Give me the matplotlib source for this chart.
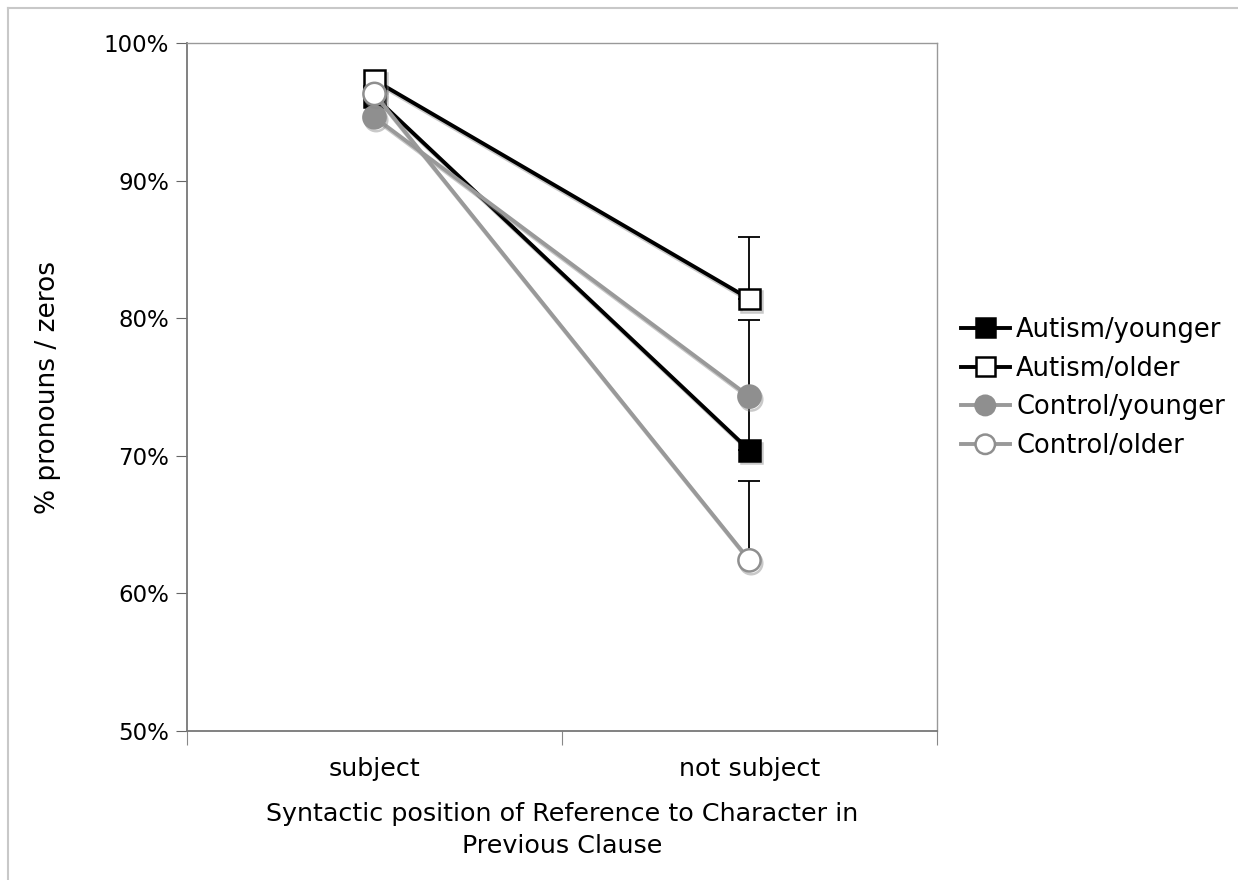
import matplotlib
matplotlib.use("Agg")
import matplotlib.pyplot as plt
import matplotlib.patheffects as pe
from matplotlib.lines import Line2D
from matplotlib.ticker import FuncFormatter

categories = ["subject", "not subject"]
series_names = ["Autism/younger", "Autism/older", "Control/younger", "Control/older"]
autism_younger = [96.1, 70.4]
autism_older = [97.3, 81.4]
control_younger = [94.6, 74.3]
control_older = [96.3, 62.4]
err_autism_younger = [0.0, 9.5]
err_autism_older = [0.0, 4.5]
err_control_younger = [0.0, 0.0]
err_control_older = [0.0, 5.8]
y_ticks = [50, 60, 70, 80, 90, 100]

plt.rcParams['font.family'] = ['DejaVu Sans']

fig = plt.figure(figsize=(12.38, 8.8), dpi=100)
ax = fig.add_axes([187/1238, 1-731/880, (937-187)/1238, (731-43)/880])

# figure border (top and left)
fig.add_artist(Line2D([8/1238, 1], [1-8/880, 1-8/880], color='#c8c8c8', lw=1.5, transform=fig.transFigure))
fig.add_artist(Line2D([8/1238, 8/1238], [0, 1-8/880], color='#c8c8c8', lw=1.5, transform=fig.transFigure))

xpos = [0.5, 1.5]
shadow = [pe.SimpleLineShadow(offset=(1.2, -2.0), shadow_color='#888888', alpha=0.45), pe.Normal()]

styles = [
    dict(data=autism_younger, err=err_autism_younger, color='black', marker='s', mfc='black', mec='black'),
    dict(data=autism_older, err=err_autism_older, color='black', marker='s', mfc='white', mec='black'),
    dict(data=control_younger, err=err_control_younger, color='#999999', marker='o', mfc='#8f8f8f', mec='#8f8f8f'),
    dict(data=control_older, err=err_control_older, color='#999999', marker='o', mfc='white', mec='#8f8f8f'),
]

handles = []
for name, st in zip(series_names, styles):
    # error bars (plus only)
    for x, v, e in zip(xpos, st['data'], st['err']):
        if e > 0:
            ax.errorbar([x], [v], yerr=[[0], [e]], fmt='none', ecolor='black',
                        elinewidth=1.3, capsize=8, capthick=1.3, zorder=2)
    ms = 15 if st['marker'] == 's' else 16
    ln, = ax.plot(xpos, st['data'], color=st['color'], lw=2.8, marker=st['marker'],
                  markersize=ms, markerfacecolor=st['mfc'], markeredgecolor=st['mec'],
                  markeredgewidth=1.8, zorder=3, label=name)
    ln.set_path_effects(shadow)
    handles.append(ln)

ax.set_xlim(0, 2)
ax.set_ylim(50, 100)
ax.set_yticks(y_ticks)
ax.yaxis.set_major_formatter(FuncFormatter(lambda v, p: f"{int(v)}%"))
ax.set_xticks([0, 1, 2])
ax.set_xticklabels([])
ax.set_xticks(xpos, minor=True)
ax.set_xticklabels(categories, minor=True)
ax.tick_params(axis='x', which='minor', length=0, pad=19, labelsize=18.3)
ax.tick_params(axis='x', which='major', length=10, direction='out', color='#888888')
ax.tick_params(axis='y', which='major', length=8, direction='out', color='#666666', labelsize=16.5, pad=5)

for s in ['top', 'right']:
    ax.spines[s].set_color('#999999')
    ax.spines[s].set_linewidth(1.0)
for s in ['left', 'bottom']:
    ax.spines[s].set_color('#777777')
    ax.spines[s].set_linewidth(1.3)

ax.set_ylabel("% pronouns / zeros", fontsize=19, labelpad=31)
ax.set_xlabel("Syntactic position of Reference to Character in\nPrevious Clause", fontsize=18.3,
              labelpad=15, linespacing=1.4)

leg = fig.legend(handles=handles, loc='center left', bbox_to_anchor=(948/1238, 1-388/880),
                 frameon=False, fontsize=18.5, handlelength=1.9, handletextpad=0.25,
                 labelspacing=0.5, borderpad=0)
for h in leg.legend_handles:
    h.set_path_effects([pe.Normal()])
    h.set_markersize(14)

fig.savefig("out.png", dpi=100, facecolor='white')
